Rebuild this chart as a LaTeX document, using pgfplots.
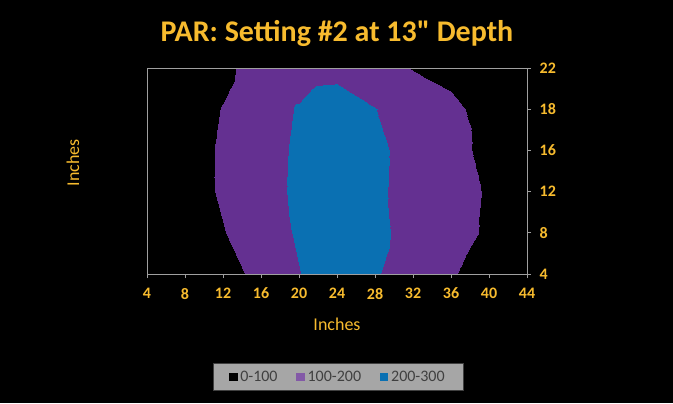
\documentclass[border=0pt]{standalone}
\usepackage{fontspec}
\setmainfont{Carlito}
\newfontfamily\qfont{Carlito}[Ligatures=TeXOff]
\usepackage{pgfplots}
\pgfplotsset{compat=1.18}
\definecolor{gold}{RGB}{247,187,46}
\definecolor{ppl}{RGB}{100,48,145}
\definecolor{pbl}{RGB}{10,112,178}
\definecolor{lgray}{RGB}{166,166,166}
\definecolor{ltxt}{RGB}{64,64,64}
\pgfplotstableread{
x y v
4 0 0
8 0 20
12 0 60
16 0 130
20 0 198
24 0 240
28 0 210
32 0 140
36 0 110
40 0 50
44 0 10
4 1 5
8 1 30
12 1 95
16 1 165
20 1 208
24 1 255
28 1 235
32 1 150
36 1 140
40 1 85
44 1 20
4 2 10
8 2 45
12 2 115
16 2 175
20 2 212
24 2 265
28 2 225
32 2 150
36 2 140
40 2 90
44 2 30
4 3 10
8 3 50
12 3 115
16 3 175
20 3 210
24 3 260
28 3 230
32 3 150
36 3 130
40 3 75
44 3 30
4 4 10
8 4 40
12 4 105
16 4 170
20 4 205
24 4 240
28 4 202
32 4 170
36 4 130
40 4 50
44 4 30
4 5 0
8 5 20
12 5 70
16 5 160
20 5 170
24 5 175
28 5 150
32 5 95
36 5 60
40 5 40
44 5 30
}\pardata
\begin{document}
\begin{tikzpicture}
\fill[black] (0,0) rectangle (504.75pt,302.25pt);
\node[text=gold, font=\bfseries\fontsize{22.5}{26}\selectfont] at (252.75pt,277.5pt) {PAR: Setting \#2 at 13{\qfont\bfseries "} Depth};
\node[text=gold, rotate=90, font=\fontsize{13.5}{16}\selectfont] at (54.75pt,180pt) {Inches};
\node[text=gold, font=\fontsize{13.5}{16}\selectfont] at (252.75pt,59.25pt) {Inches};
\begin{axis}[at={(110.25pt,96.75pt)}, anchor=south west, scale only axis,
  width=285pt, height=154.5pt,
  view={0}{90},
  xmin=4, xmax=44, ymin=0, ymax=5,
  xtick={4,8,...,44}, ytick={0,1,2,3,4,5}, yticklabels={4,8,12,16,18,22},
  xtick pos=bottom, ytick pos=right, yticklabel pos=right,
  tick align=outside, major tick length=3pt,
  axis line style={draw=gray!75!white, line width=0.6pt},
  every tick/.style={draw=gray!75!white, line width=0.6pt},
  tick label style={text=gold, font=\bfseries\fontsize{12}{14}\selectfont},
  xticklabel style={yshift=-4pt},
  yticklabel style={xshift=3pt},
  /pgf/number format/assume math mode=true,
  colormap={parmap}{color(0)=(black) color(1)=(ppl) color(2)=(pbl) color(3)=(pbl)},
  colormap access=piecewise constant,
  point meta min=0, point meta max=300,
  legend style={at={(0.503,-0.5)}, anchor=center, fill=lgray, draw=gray!50!black,
    text=ltxt, font=\fontsize{12}{14}\selectfont, legend columns=3,
    inner xsep=12pt, inner ysep=3.5pt,
    /tikz/every even column/.append style={column sep=12pt}},
  legend image code/.code={\fill[#1] (0pt,-3.2pt) rectangle (6.5pt,3.3pt);},
]
\addplot3[surf, shader=interp, mesh/rows=6, mesh/cols=11, point meta=\thisrow{v}, forget plot] table[x=x, y=y, z=v] {\pardata};
\addlegendimage{fill=black, draw=none}
\addlegendentry{0-100}
\addlegendimage{fill=ppl!80!white, draw=none}
\addlegendentry{100-200}
\addlegendimage{fill=pbl, draw=none}
\addlegendentry{200-300}
\end{axis}
\end{tikzpicture}
\end{document}
